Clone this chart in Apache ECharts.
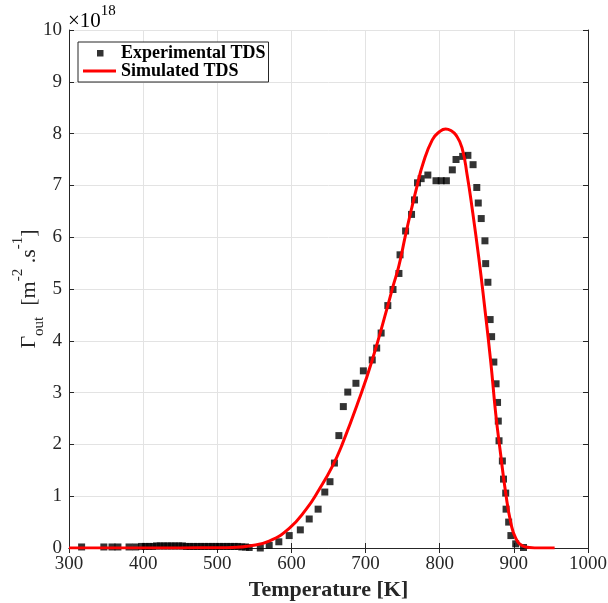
<!DOCTYPE html>
<html>
<head>
<meta charset="utf-8">
<script src="https://cdn.jsdelivr.net/npm/echarts@6/dist/echarts.min.js"></script>
<style>html,body{margin:0;padding:0;background:#fff;}#c{width:608px;height:603px;}</style>
</head>
<body>
<div id="c"></div>
<script>
// Experimental TDS (temperature K, flux in units of 1e18 m^-2 s^-1)
var expT = [317,347,358,366,381,390,398,403,408,413,418,423,428,433,438,443,448,453,458,463,468,473,478,483,488,493,498,503,508,513,518,523,528,533,538,543,558,570,583,597,612,624,636,645,652,658,664,670,676,687,697,709,715,721,730,737,745,746.5,754,762,766,770,775,784,795,802,809,817,822,831,838,845,850,852,856,861,862,865,868,870,873,876,878,879,880,884.5,886,889,889.5,893,896,902.5,913];
var expV = [0.02,0.02,0.02,0.02,0.02,0.02,0.03,0.03,0.03,0.03,0.04,0.04,0.04,0.04,0.04,0.04,0.04,0.04,0.03,0.03,0.03,0.03,0.03,0.03,0.03,0.03,0.03,0.03,0.03,0.03,0.03,0.03,0.03,0.02,0.02,0.01,0.0,0.05,0.12,0.24,0.35,0.56,0.75,1.08,1.28,1.64,2.17,2.73,3.01,3.18,3.42,3.63,3.86,4.15,4.68,4.99,5.30,5.66,6.12,6.44,6.72,7.05,7.13,7.20,7.09,7.09,7.09,7.30,7.50,7.56,7.58,7.40,6.96,6.66,6.36,5.93,5.49,5.13,4.41,4.08,3.59,3.17,2.81,2.45,2.07,1.68,1.33,1.06,0.75,0.50,0.24,0.08,0.01];
// Simulated TDS
var simT = [300,350,400,450,500,520,543,570,597,620,637,655,669,691,709,730,737,745,754,762,770,777,790,800,808,815,822,830,837,844,853,860,869,875.5,882,889,896,902.5,911,921,935,955];
var simV = [0,0,0,0.002,0.006,0.012,0.04,0.135,0.38,0.75,1.12,1.57,2.02,2.86,3.63,4.68,5.05,5.45,6.05,6.55,7.02,7.4,7.88,8.04,8.09,8.06,7.97,7.73,7.2,6.53,5.57,4.73,3.57,2.6,1.83,1.06,0.48,0.19,0.05,0.01,0.0,0.0];
var xTicks = [300,400,500,600,700,800,900,1000];
var yTicks = [0,1,2,3,4,5,6,7,8,9,10];

var expData = expT.map(function(t,i){return [t, expV[i]];});
var simData = simT.map(function(t,i){return [t, simV[i]];});

var FONT = '"Liberation Serif", "DejaVu Serif", serif';
var AX = '#262626';
var chart = echarts.init(document.getElementById('c'));
var axisLineStyle = {lineStyle:{color:AX, width:1}};
chart.setOption({
  animation:false,
  backgroundColor:'#ffffff',
  grid:{left:69, right:20, top:30, bottom:55, containLabel:false, outerBoundsMode:'none'},
  legend:{
    orient:'vertical', left:78, top:42,
    padding:[2,3,2,5], itemGap:0, itemWidth:33, itemHeight:14,
    backgroundColor:'#ffffff', borderColor:AX, borderWidth:1, borderRadius:0,
    textStyle:{fontFamily:FONT, fontWeight:'bold', fontSize:18, color:'#000'},
    data:[
      {name:'Experimental TDS', icon:'path://M0,0M33,14M14,4h6.5v6.5h-6.5z'},
      {name:'Simulated TDS', icon:'path://M0,0M33,14M0,5.5h33v3h-33z'}
    ]
  },
  graphic:[{
    type:'text', left:68, top:4,
    style:{
      text:'{a|×10}{b|18}',
      rich:{
        a:{fontFamily:FONT, fontSize:21, color:AX, verticalAlign:'bottom', lineHeight:28},
        b:{fontFamily:FONT, fontSize:15, color:AX, verticalAlign:'top', lineHeight:28}
      }
    }
  }],
  xAxis:[{
    type:'value', min:300, max:1000, interval:100,
    name:'Temperature [K]', nameLocation:'middle', nameGap:29,
    nameTextStyle:{fontFamily:FONT, fontWeight:'bold', fontSize:22, color:AX},
    axisLine:axisLineStyle,
    axisTick:{inside:true, length:5, lineStyle:{color:AX}},
    axisLabel:{fontFamily:FONT, fontSize:19, color:AX, margin:7,
      formatter:function(v){return xTicks.indexOf(v)>=0 ? String(v) : '';}},
    splitLine:{show:true, lineStyle:{color:'#e3e3e3', width:1}}
  },{
    type:'value', position:'top', min:300, max:1000, interval:100,
    axisLine:axisLineStyle,
    axisTick:{inside:true, length:5, lineStyle:{color:AX}},
    axisLabel:{show:false}, splitLine:{show:false}
  }],
  yAxis:[{
    type:'value', min:0, max:10, interval:1,
    name:'{g|Γ}{sub|out}{g|  [m}{sup|-2}{g| .s}{sup|-1}{g|]}',
    nameLocation:'middle', nameGap:22, nameRotate:90, nameMoveOverlap:false,
    nameTextStyle:{
      rich:{
        g:{fontFamily:FONT, fontSize:22, color:AX, lineHeight:36, verticalAlign:'middle'},
        sub:{fontFamily:FONT, fontSize:15, color:AX, lineHeight:36, verticalAlign:'bottom'},
        sup:{fontFamily:FONT, fontSize:15, color:AX, lineHeight:36, verticalAlign:'top'}
      }
    },
    axisLine:axisLineStyle,
    axisTick:{inside:true, length:5, lineStyle:{color:AX}},
    axisLabel:{fontFamily:FONT, fontSize:19, color:AX, margin:7,
      formatter:function(v){return yTicks.indexOf(v)>=0 ? String(v) : '';}},
    splitLine:{show:true, lineStyle:{color:'#e3e3e3', width:1}}
  },{
    type:'value', position:'right', min:0, max:10, interval:1,
    axisLine:axisLineStyle,
    axisTick:{inside:true, length:5, lineStyle:{color:AX}},
    axisLabel:{show:false}, splitLine:{show:false}
  }],
  series:[{
    name:'Experimental TDS', type:'scatter', data:expData,
    symbol:'rect', symbolSize:7, itemStyle:{color:'#000000'}, z:2
  },{
    name:'Simulated TDS', type:'line', data:simData,
    symbol:'none', smooth:0.5,
    lineStyle:{color:'#ff0000', width:3}, itemStyle:{color:'#ff0000'}, z:3
  }]
});
</script>
</body>
</html>
